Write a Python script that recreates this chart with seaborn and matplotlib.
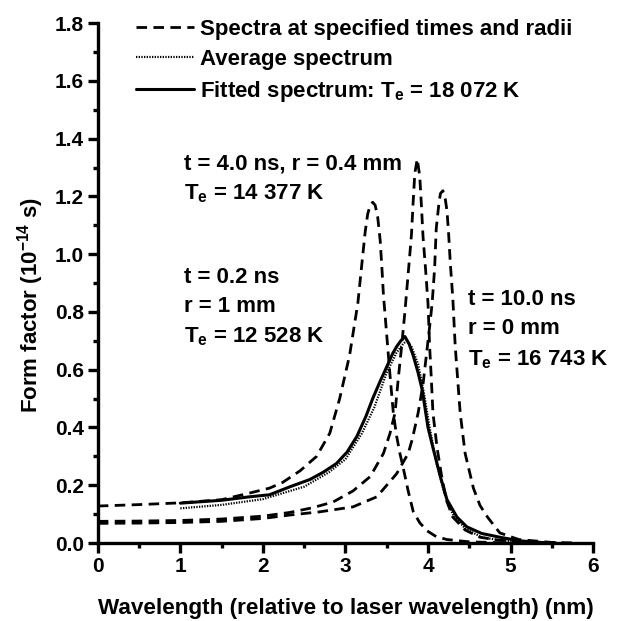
import matplotlib
matplotlib.use("Agg")
import matplotlib.pyplot as plt
from matplotlib.lines import Line2D
from matplotlib.ticker import MultipleLocator, FormatStrFormatter
import seaborn as sns

# Spectrum at t = 0.2 ns, r = 1 mm
wl_a = [0.0, 0.5, 1.0, 1.5, 1.84, 2.08, 2.24, 2.45, 2.65, 2.81, 2.93, 3.05, 3.15, 3.20,
        3.24, 3.27, 3.30, 3.33, 3.36, 3.39, 3.42, 3.44, 3.46, 3.50, 3.54, 3.58, 3.62, 3.66,
        3.70, 3.76, 3.82, 3.90, 3.99, 4.10, 4.23, 4.50, 5.00]
ff_a = [0.128, 0.133, 0.139, 0.150, 0.173, 0.190, 0.210, 0.250, 0.300, 0.380, 0.500, 0.650,
        0.830, 0.970, 1.080, 1.140, 1.170, 1.180, 1.170, 1.130, 1.050, 0.960, 0.860, 0.720,
        0.580, 0.450, 0.370, 0.310, 0.260, 0.180, 0.110, 0.070, 0.042, 0.022, 0.012, 0.004, 0.0]

# Spectrum at t = 4.0 ns, r = 0.4 mm
wl_b = [0.0, 0.5, 1.0, 1.5, 2.0, 2.33, 2.6, 2.85, 3.09, 3.30, 3.46, 3.54, 3.60, 3.64, 3.68,
        3.72, 3.75, 3.78, 3.80, 3.82, 3.84, 3.87, 3.90, 3.92, 3.94, 3.97, 4.00, 4.02, 4.04,
        4.06, 4.11, 4.16, 4.22, 4.30, 4.45, 4.63, 4.85, 5.20, 5.60]
ff_b = [0.075, 0.076, 0.078, 0.083, 0.093, 0.106, 0.122, 0.142, 0.180, 0.230, 0.310, 0.380,
        0.450, 0.570, 0.680, 0.800, 0.900, 1.000, 1.070, 1.180, 1.280, 1.330, 1.270, 1.170,
        1.060, 0.950, 0.830, 0.680, 0.570, 0.450, 0.330, 0.240, 0.150, 0.090, 0.045, 0.020,
        0.010, 0.004, 0.0]

# Spectrum at t = 10.0 ns, r = 0 mm
wl_c = [0.0, 0.5, 1.0, 1.5, 2.0, 2.33, 2.69, 3.09, 3.38, 3.62, 3.76, 3.81, 3.88, 3.94, 3.98,
        4.02, 4.05, 4.08, 4.10, 4.13, 4.15, 4.18, 4.21, 4.23, 4.25, 4.27, 4.30, 4.33, 4.39,
        4.45, 4.55, 4.63, 4.72, 4.87, 5.10, 5.50, 5.80]
ff_c = [0.068, 0.069, 0.071, 0.075, 0.085, 0.097, 0.108, 0.125, 0.160, 0.240, 0.310, 0.360,
        0.450, 0.550, 0.650, 0.750, 0.830, 0.950, 1.090, 1.170, 1.210, 1.220, 1.190, 1.150,
        1.070, 0.970, 0.850, 0.680, 0.450, 0.310, 0.190, 0.130, 0.090, 0.035, 0.012, 0.002, 0.0]

# Average spectrum
wl_avg = [1.0, 1.5, 2.0, 2.5, 2.8, 3.0, 3.2, 3.35, 3.5, 3.62, 3.70, 3.74, 3.80, 3.88, 3.95,
          4.02, 4.10, 4.20, 4.30, 4.45, 4.65, 4.90, 5.20, 5.50]
ff_avg = [0.120, 0.132, 0.152, 0.195, 0.245, 0.290, 0.380, 0.470, 0.590, 0.660, 0.690, 0.700,
          0.680, 0.620, 0.520, 0.400, 0.280, 0.170, 0.100, 0.050, 0.020, 0.008, 0.002, 0.0]

# Fitted spectrum, Te = 18 072 K
wl_fit = [1.0, 1.5, 1.84, 2.08, 2.33, 2.57, 2.73, 2.89, 3.02, 3.14, 3.25, 3.33, 3.42, 3.50,
          3.57, 3.62, 3.67, 3.72, 3.77, 3.82, 3.88, 3.93, 4.00, 4.06, 4.15, 4.23, 4.35, 4.47,
          4.65, 4.87, 5.10, 5.30, 5.50]
ff_fit = [0.138, 0.148, 0.160, 0.167, 0.195, 0.220, 0.245, 0.275, 0.315, 0.370, 0.440, 0.500,
          0.560, 0.610, 0.655, 0.680, 0.700, 0.715, 0.690, 0.650, 0.590, 0.530, 0.400, 0.330,
          0.230, 0.150, 0.090, 0.056, 0.033, 0.020, 0.008, 0.003, 0.0]

legend_labels = ["Spectra at specified times and radii",
                 "Average spectrum",
                 "Fitted spectrum: T$_e$ = 18 072 K"]

annotations = [
    (1.05, 1.35, "t = 4.0 ns, r = 0.4 mm\nT$_e$ = 14 377 K"),
    (1.05, 0.955, "t = 0.2 ns\nr = 1 mm\nT$_e$ = 12 528 K"),
    (4.48, 0.878, "t = 10.0 ns\nr = 0 mm\nT$_e$ = 16 743 K"),
]

sns.set_theme(style="ticks")
plt.rcParams["font.family"] = ["Liberation Sans", "DejaVu Sans"]
plt.rcParams["font.weight"] = "bold"
plt.rcParams["axes.labelweight"] = "bold"
plt.rcParams["mathtext.default"] = "regular"

fig = plt.figure(figsize=(6.23, 6.21), dpi=100)
ax = fig.add_axes([0.157, 0.1256, 0.795, 0.837])

dash = (0, (3.8, 2.3))
dots = (0, (0.6, 0.6))
for wl, ff in [(wl_a, ff_a), (wl_b, ff_b), (wl_c, ff_c)]:
    sns.lineplot(x=wl, y=ff, ax=ax, color="black", lw=2.0, linestyle=dash,
                 estimator=None, sort=False)
sns.lineplot(x=wl_avg, y=ff_avg, ax=ax, color="black", lw=1.6, linestyle=dots,
             estimator=None, sort=False)
sns.lineplot(x=wl_fit, y=ff_fit, ax=ax, color="black", lw=2.2,
             estimator=None, sort=False)

ax.set_xlim(0, 6)
ax.set_ylim(0, 1.8)
ax.xaxis.set_major_locator(MultipleLocator(1))
ax.xaxis.set_minor_locator(MultipleLocator(0.5))
ax.yaxis.set_major_locator(MultipleLocator(0.2))
ax.yaxis.set_minor_locator(MultipleLocator(0.1))
ax.yaxis.set_major_formatter(FormatStrFormatter("%.1f"))
ax.tick_params(which="major", direction="out", length=7, width=2.4, labelsize=15,
               color="black", labelcolor="black", pad=3)
ax.tick_params(which="minor", direction="out", length=3.6, width=2.4, color="black")
sns.despine(ax=ax)
for side in ("left", "bottom"):
    ax.spines[side].set_linewidth(2.4)
    ax.spines[side].set_color("black")

ax.set_xlabel("Wavelength (relative to laser wavelength) (nm)", fontsize=16.2,
              fontweight="bold", color="black", labelpad=16)
ax.set_ylabel("Form factor (10$^{-14}$ s)", fontsize=16, fontweight="bold",
              color="black")
ax.yaxis.set_label_coords(-0.104, 0.458)

for x, y, txt in annotations:
    ax.text(x, y, txt, fontsize=16, fontweight="bold", color="black",
            va="top", ha="left", linespacing=1.5)

handles = [
    Line2D([], [], color="black", lw=2.0, linestyle=dash),
    Line2D([], [], color="black", lw=1.6, linestyle=dots),
    Line2D([], [], color="black", lw=2.2),
]
ax.legend(handles, legend_labels, loc="upper left", bbox_to_anchor=(0.06, 1.025),
          frameon=False, prop={"size": 16, "weight": "bold"}, handlelength=2.6,
          handletextpad=0.25, labelspacing=0.4, borderaxespad=0, labelcolor="black")

fig.savefig("out.png", dpi=100)
